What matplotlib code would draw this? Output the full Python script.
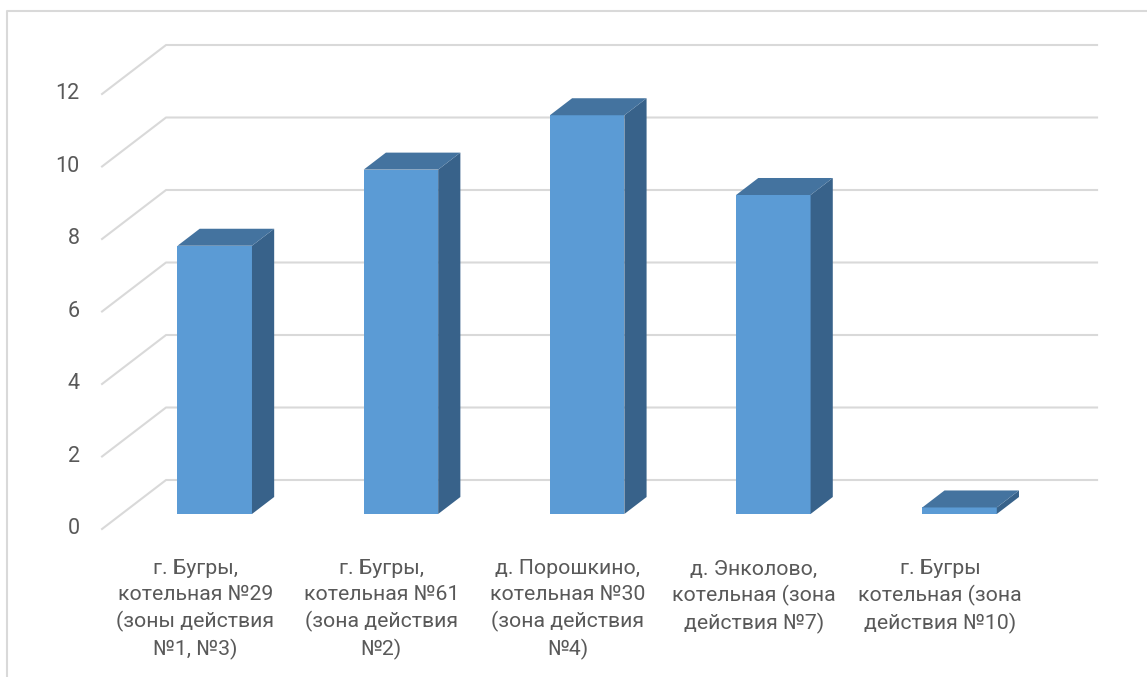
import matplotlib.pyplot as plt
from matplotlib.patches import Polygon

categories = [
    'г. Бугры,\nкотельная №29\n(зоны действия\n№1, №3)',
    'г. Бугры,\nкотельная №61\n(зона действия\n№2)',
    'д. Порошкино,\nкотельная №30\n(зона действия\n№4)',
    'д. Энколово,\nкотельная (зона\nдействия №7)',
    'г. Бугры\nкотельная (зона\nдействия №10)',
]
values = [7.4, 9.5, 11.0, 8.8, 0.18]
yticks = [0, 2, 4, 6, 8, 10, 12]

plt.rcParams['font.family'] = ['Roboto', 'DejaVu Sans']

# fake 3d: depth offset in data units (category units / value units)
DX = 64 / 186.2
DY = 49 / 36.25
bar_w = 0.4
z_front = 15 / 49
z_back = 32 / 49

front_c = '#5B9BD5'
top_c = '#44739F'
side_c = '#38628A'
grid_c = '#D9D9D9'
text_c = '#595959'

fig = plt.figure(figsize=(11.47, 6.77), dpi=100)
ax = fig.add_axes([0, 0, 1, 1])
ax.set_xlim(-1.048, 5.112)
ax.set_ylim(-4.083, 14.593)
ax.axis('off')

# outer border of chart area
fig.add_artist(plt.Line2D([7 / 1147, 7 / 1147, 1], [0, 1 - 11 / 677, 1 - 11 / 677],
                          transform=fig.transFigure, color=grid_c, lw=1.5))

n = len(categories)
for v in yticks:
    ax.plot([-0.5, -0.5 + DX, n - 0.5 + DX], [v, v + DY, v + DY],
            color=grid_c, lw=1.5, zorder=1)
    ax.text(-0.62, v, str(v), ha='right', va='center', fontsize=15.5, color=text_c)

xs = [i + z_front * DX for i in range(n)]
ax.bar(xs, values, width=bar_w, bottom=z_front * DY, color=front_c, zorder=3)

dz = z_back - z_front
for x, v in zip(xs, values):
    xl, xr = x - bar_w / 2, x + bar_w / 2
    yb, yt = z_front * DY, z_front * DY + v
    side = Polygon([(xr, yb), (xr + dz * DX, yb + dz * DY),
                    (xr + dz * DX, yt + dz * DY), (xr, yt)],
                   closed=True, facecolor=side_c, edgecolor='none', zorder=3)
    top = Polygon([(xl, yt), (xr, yt), (xr + dz * DX, yt + dz * DY),
                   (xl + dz * DX, yt + dz * DY)],
                  closed=True, facecolor=top_c, edgecolor='none', zorder=3)
    ax.add_patch(side)
    ax.add_patch(top)

for i, lab in enumerate(categories):
    ax.text(i, -0.84, lab, ha='center', va='top', fontsize=15.3, color=text_c,
            linespacing=1.42)

fig.savefig('out.png', dpi=100)
